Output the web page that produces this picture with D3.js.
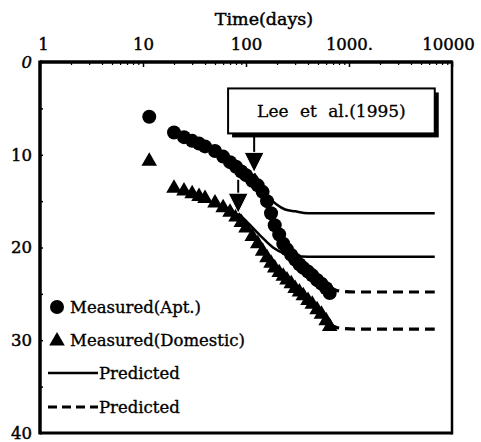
<!DOCTYPE html>
<html><head><meta charset="utf-8">
<script src="https://cdn.jsdelivr.net/npm/d3@7"></script>
<style>body{margin:0;background:#fff}</style>
</head><body>
<script>
// ---- data ----
const xTickValues = [1, 10, 100, 1000, 10000];
const xTickLabels = ["1", "10", "100", "1000.", "10000"];
const yTickValues = [0, 10, 20, 30, 40];
const yTickLabels = ["0", "10", "20", "30", "40"];
const timesMeasured = [11.5,20,25,30,35,40,50,60,70,80,90,100,115,130,145,160,175,190,210,230,250,275,300,330,360,400,440,490,540,600,650];
const aptValues = [5.9,7.6,8.1,8.5,8.8,9.1,9.6,10.2,10.8,11.3,11.8,12.2,12.8,13.3,14.0,15.0,16.3,17.6,18.6,19.6,20.2,20.8,21.3,21.8,22.2,22.6,23.0,23.5,23.9,24.4,24.9];
const domesticValues = [10.6,13.5,13.8,14.1,14.4,14.6,15.1,15.6,16.1,16.6,17.2,17.8,18.7,19.5,20.3,21.0,21.6,22.1,22.6,23.0,23.4,23.8,24.3,24.7,25.1,25.6,26.0,26.6,27.1,27.8,28.4];
const predLeeAptT = [120,150,175,200,240,300,400,600,6800];
const predLeeAptY = [12.0,13.9,14.8,15.4,15.9,16.1,16.3,16.3,16.3];
const predLeeDomT = [84,110,140,183,230,300,400,6800];
const predLeeDomY = [16.3,17.6,18.8,20.0,20.6,20.9,21.0,21.0];
const predAptT = [650,750,900,1200,2000,6800];
const predAptY = [24.3,24.6,24.75,24.8,24.8,24.8];
const predDomT = [650,750,900,1200,2000,6800];
const predDomY = [28.3,28.6,28.75,28.8,28.8,28.8];
const arrowT = [120, 84];
const arrowTipY = [11.9, 16.3];
const arrowStartY = [null, 12.7];
const annotationText = "Lee et al.(1995)";
const xTitle = "Time(days)";
const legendLabels = ["Measured(Apt.)", "Measured(Domestic)", "Predicted", "Predicted"];

// ---- chart ----
const W = 481, H = 442;
const L = 40, R = 452, T = 62, B = 433;
const FONT = "'DejaVu Serif', 'Liberation Serif', serif";
const svg = d3.select("body").append("svg").attr("width", W).attr("height", H)
  .style("background", "#fff");
const heavy = sel => sel.attr("stroke", "#000").attr("stroke-width", 0.45).attr("fill", "#000");

const x = d3.scaleLog().domain([1, 10000]).range([L, R]);
const y = d3.scaleLinear().domain([0, 40]).range([T, B]);

// minor ticks top (inward)
const minor = [];
for (let d = 1; d < 10000; d *= 10) for (let k = 2; k <= 9; k++) minor.push(d * k);
svg.append("g").attr("transform", `translate(0,${T})`)
  .call(d3.axisBottom(x).tickValues(minor).tickSize(3).tickFormat(""))
  .call(g => g.select(".domain").remove())
  .selectAll("line").attr("stroke", "#000").attr("stroke-width", 1.2);
svg.append("g").attr("transform", `translate(0,${T})`)
  .call(d3.axisBottom(x).tickValues(xTickValues).tickSize(5).tickFormat(""))
  .call(g => g.select(".domain").remove())
  .selectAll("line").attr("stroke", "#000").attr("stroke-width", 1.5);
// top labels
svg.append("g").attr("transform", `translate(0,${T - 9})`)
  .call(d3.axisTop(x).tickValues(xTickValues).tickSize(0).tickFormat((d, i) => xTickLabels[i]))
  .call(g => g.select(".domain").remove())
  .selectAll("text").attr("font-family", FONT).attr("font-size", 16.5).call(heavy)
  .attr("dx", (d, i) => i === 0 ? 3 : (i === 4 ? -4 : 0));

// left axis ticks (inward)
svg.append("g").attr("transform", `translate(${L},0)`)
  .call(d3.axisRight(y).tickValues([5,10,15,20,25,30,35]).tickSize(3).tickFormat(""))
  .call(g => g.select(".domain").remove())
  .selectAll("line").attr("stroke", "#000").attr("stroke-width", 1.5);
svg.append("g").attr("transform", `translate(${L - 5},0)`)
  .call(d3.axisLeft(y).tickValues(yTickValues).tickSize(0).tickFormat((d, i) => yTickLabels[i]))
  .call(g => g.select(".domain").remove())
  .selectAll("text").attr("font-family", FONT).attr("font-size", 16.5).call(heavy)
  .attr("font-style", d => d === 0 ? "italic" : "normal");

// frame
svg.append("line").attr("x1", L).attr("x2", R).attr("y1", T).attr("y2", T).attr("stroke", "#000").attr("stroke-width", 3.5);
svg.append("line").attr("x1", L).attr("x2", R).attr("y1", B).attr("y2", B).attr("stroke", "#000").attr("stroke-width", 3);
svg.append("line").attr("x1", L).attr("x2", L).attr("y1", T - 1.5).attr("y2", B + 1.5).attr("stroke", "#000").attr("stroke-width", 3.5);
svg.append("line").attr("x1", R).attr("x2", R).attr("y1", T - 1.5).attr("y2", B + 1.5).attr("stroke", "#000").attr("stroke-width", 2.5);

// title
svg.append("text").attr("x", (x(1) + x(10000)) / 2 + 18).attr("y", 25).attr("text-anchor", "middle")
  .attr("font-family", FONT).attr("font-size", 17.5).call(heavy).text(xTitle);

// predicted lines
const line = d3.line().x(d => x(d[0])).y(d => y(d[1])).curve(d3.curveMonotoneX);
const zip = (a, b) => a.map((v, i) => [v, b[i]]);
[[predLeeAptT, predLeeAptY], [predLeeDomT, predLeeDomY]].forEach(([t, v]) => {
  svg.append("path").attr("d", line(zip(t, v))).attr("fill", "none").attr("stroke", "#000").attr("stroke-width", 2.5);
});
[[predAptT, predAptY], [predDomT, predDomY]].forEach(([t, v]) => {
  svg.append("path").attr("d", line(zip(t, v))).attr("fill", "none").attr("stroke", "#000")
    .attr("stroke-width", 3.2).attr("stroke-dasharray", "10,6");
});

// markers
const tri = d3.symbol().type(d3.symbolTriangle).size(105);
svg.append("g").selectAll("circle").data(zip(timesMeasured, aptValues)).join("circle")
  .attr("cx", d => x(d[0])).attr("cy", d => y(d[1])).attr("r", 7).attr("fill", "#000");
svg.append("g").selectAll("path").data(zip(timesMeasured, domesticValues)).join("path")
  .attr("d", tri).attr("transform", d => `translate(${x(d[0])},${y(d[1]) + 1})`).attr("fill", "#000");

// annotation box
const bx0 = x(67), bx1 = x(6800), by0 = y(2.85), by1 = y(7.7);
svg.append("rect").attr("x", bx0 + 4).attr("y", by0 + 4).attr("width", bx1 - bx0).attr("height", by1 - by0).attr("fill", "#000");
svg.append("rect").attr("x", bx0).attr("y", by0).attr("width", bx1 - bx0).attr("height", by1 - by0)
  .attr("fill", "#fff").attr("stroke", "#000").attr("stroke-width", 2);
svg.append("text").attr("x", (bx0 + bx1) / 2).attr("y", (by0 + by1) / 2 + 6).attr("text-anchor", "middle")
  .attr("font-family", FONT).attr("font-size", 17).attr("word-spacing", 6).call(heavy).attr("stroke-width", 0.3)
  .text(annotationText);

// arrows
arrowT.forEach((t, i) => {
  const ax = x(t), tip = y(arrowTipY[i]);
  const start = arrowStartY[i] === null ? by1 + 3 : y(arrowStartY[i]);
  svg.append("line").attr("x1", ax).attr("x2", ax).attr("y1", start).attr("y2", tip - 18)
    .attr("stroke", "#000").attr("stroke-width", 2);
  svg.append("path").attr("d", `M${ax - 10},${tip - 20}L${ax + 10},${tip - 20}L${ax},${tip}Z`)
    .attr("fill", "#000").attr("stroke", "#fff").attr("stroke-width", 1);
});

// legend
const lg = svg.append("g").attr("font-family", FONT).attr("font-size", 16.5);
const ly = [307, 340, 373, 407];
lg.append("circle").attr("cx", 57).attr("cy", ly[0]).attr("r", 7).attr("fill", "#000");
lg.append("path").attr("d", tri).attr("transform", `translate(57,${ly[1] + 1})`).attr("fill", "#000");
lg.append("line").attr("x1", 48).attr("x2", 98).attr("y1", ly[2]).attr("y2", ly[2]).attr("stroke", "#000").attr("stroke-width", 2.5);
lg.append("line").attr("x1", 48).attr("x2", 98).attr("y1", ly[3]).attr("y2", ly[3]).attr("stroke", "#000").attr("stroke-width", 3)
  .attr("stroke-dasharray", "9,5");
legendLabels.forEach((s, i) => {
  lg.append("text").attr("x", i < 2 ? 70 : 99).attr("y", ly[i] + 6).call(heavy).attr("stroke-width", 0.35).text(s);
});
</script>
</body></html>
